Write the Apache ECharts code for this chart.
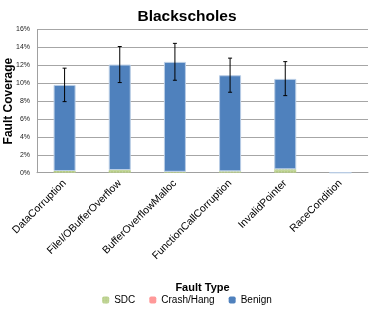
<!DOCTYPE html>
<html><head><meta charset="utf-8">
<script src="https://cdn.jsdelivr.net/npm/echarts@6/dist/echarts.min.js"></script>
<style>html,body{margin:0;padding:0;background:#fff}#c{width:374px;height:314px}</style>
</head><body><div id="c"></div>
<script>
const categories = ['DataCorruption','FileI/OBufferOverflow','BufferOverflowMalloc','FunctionCallCorruption','InvalidPointer','RaceCondition'];
const sdc = [0.19, 0.30, 0.10, 0.15, 0.38, 0];
const crash = [0, 0, 0, 0, 0, 0];
const benign = [9.62, 11.78, 12.28, 10.74, 10.10, 0];
const errLow = [7.94, 10.07, 10.33, 8.99, 8.61, null];
const errHigh = [11.68, 14.10, 14.45, 12.80, 12.41, null];
const yTicks = [0, 2, 4, 6, 8, 10, 12, 14, 16];

const chart = echarts.init(document.getElementById('c'), null, {renderer: 'canvas'});
const font = 'Liberation Sans, Arial, sans-serif';
const errData = categories.map((c, i) => [i, errLow[i], errHigh[i]]).filter(d => d[1] != null);
chart.setOption({
  animation: false,
  title: {text: 'Blackscholes', left: 'center', top: 4, textStyle: {fontFamily: font, fontSize: 15.5, fontWeight: 'bold', color: '#000'}},
  grid: {left: 37, right: 6, top: 29.5, bottom: 141.3, containLabel: false, outerBoundsMode: 'none'},
  legend: {
    bottom: 4, left: 'center', itemWidth: 7, itemHeight: 7, itemGap: 14,
    textStyle: {fontFamily: font, fontSize: 10, color: '#000'},
    itemStyle: {borderWidth: 0},
    data: ['SDC', 'Crash/Hang', 'Benign']
  },
  xAxis: {
    type: 'category', data: categories,
    name: 'Fault Type', nameLocation: 'middle', nameGap: 110, nameMoveOverlap: false,
    nameTextStyle: {fontFamily: font, fontSize: 11, fontWeight: 'bold', color: '#000'},
    axisLine: {lineStyle: {color: '#a0a0a0'}},
    axisTick: {alignWithLabel: false, length: 4, lineStyle: {color: '#a0a0a0'}},
    axisLabel: {rotate: 45, fontFamily: font, fontSize: 10.5, color: '#000', margin: 9, interval: 0}
  },
  yAxis: {
    type: 'value', min: 0, max: 16, interval: 2,
    name: 'Fault Coverage', nameLocation: 'middle', nameGap: 22, nameMoveOverlap: false,
    nameTextStyle: {fontFamily: font, fontSize: 12, fontWeight: 'bold', color: '#000'},
    axisLine: {show: true, lineStyle: {color: '#a0a0a0'}},
    axisTick: {show: false},
    splitLine: {lineStyle: {color: '#a6a6a6', width: 1}},
    axisLabel: {fontFamily: font, fontSize: 7, color: '#222', margin: 7, formatter: v => v + '%'}
  },
  series: [
    {name: 'SDC', type: 'bar', stack: 's', barWidth: 22, data: sdc,
     itemStyle: {color: '#c3d69b', decal: {symbol: 'rect', symbolSize: 0.6, color: '#9bbb59', dashArrayX: [2, 1], dashArrayY: [2, 1], rotation: 0}}},
    {name: 'Crash/Hang', type: 'bar', stack: 's', data: crash, itemStyle: {color: '#ff9999'}},
    {name: 'Benign', type: 'bar', stack: 's', data: benign, itemStyle: {color: '#4f81bd', borderColor: '#b9cde5', borderWidth: 1}},
    {name: 'err', type: 'custom', data: errData, z: 10,
     renderItem: function (params, api) {
       const x = api.value(0);
       const lo = api.coord([x, api.value(1)]);
       const hi = api.coord([x, api.value(2)]);
       const w = 2;
       const st = {stroke: '#000', lineWidth: 1};
       return {type: 'group', children: [
         {type: 'line', shape: {x1: lo[0], y1: lo[1], x2: hi[0], y2: hi[1]}, style: st},
         {type: 'line', shape: {x1: lo[0] - w, y1: lo[1], x2: lo[0] + w, y2: lo[1]}, style: st},
         {type: 'line', shape: {x1: hi[0] - w, y1: hi[1], x2: hi[0] + w, y2: hi[1]}, style: st}
       ]};
     }}
  ]
});
</script></body></html>
